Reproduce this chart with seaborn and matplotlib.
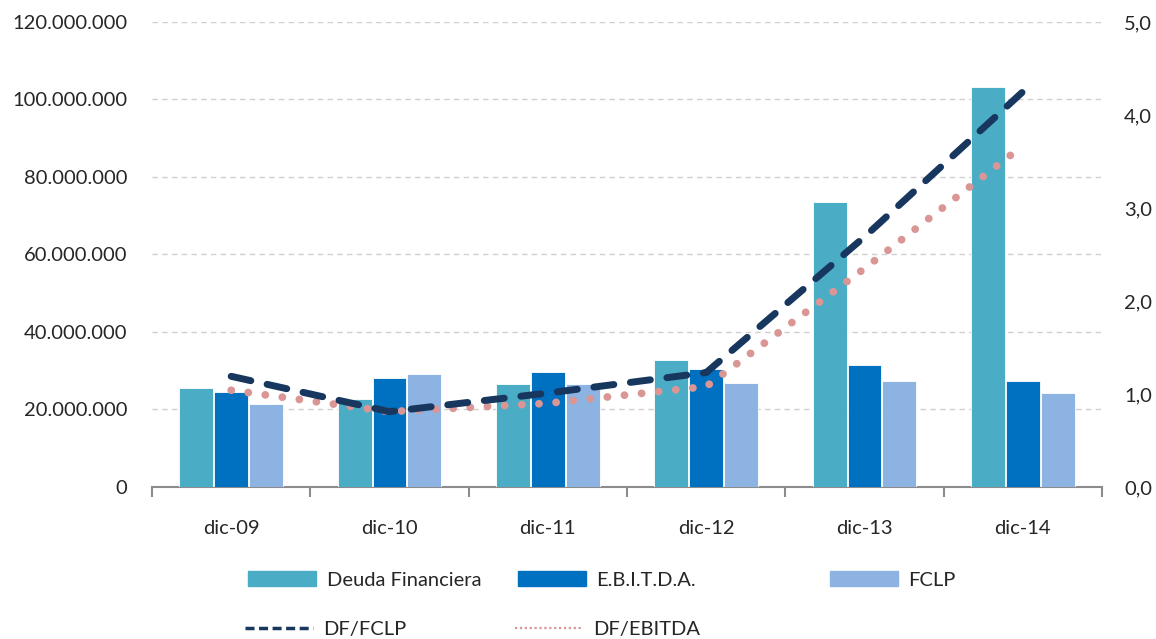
import matplotlib
matplotlib.use("Agg")
import matplotlib.pyplot as plt
import matplotlib.patches as mpatches
from matplotlib.lines import Line2D
from matplotlib.ticker import FuncFormatter, MultipleLocator
import numpy as np
import pandas as pd
import seaborn as sns

# ---- data ----
periods = ["dic-09", "dic-10", "dic-11", "dic-12", "dic-13", "dic-14"]
deuda_financiera = [25.5e6, 22.7e6, 26.5e6, 32.8e6, 73.6e6, 103.3e6]
ebitda = [24.6e6, 28.2e6, 29.6e6, 30.5e6, 31.5e6, 27.4e6]
fclp = [21.4e6, 29.2e6, 26.5e6, 26.9e6, 27.4e6, 24.2e6]
df_fclp = [1.19, 0.81, 1.01, 1.23, 2.69, 4.25]
df_ebitda = [1.04, 0.81, 0.90, 1.08, 2.35, 3.67]

series = ["Deuda Financiera", "E.B.I.T.D.A.", "FCLP"]
colors = {"Deuda Financiera": "#4BACC6", "E.B.I.T.D.A.": "#0070C0", "FCLP": "#8DB3E2"}
c_fclp = "#17375E"
c_ebitda = "#D99694"

df = pd.DataFrame({"periodo": periods * 3,
                   "serie": np.repeat(series, len(periods)),
                   "valor": deuda_financiera + ebitda + fclp})

sns.set_theme(style="white")
plt.rcParams["font.family"] = ["Lato", "DejaVu Sans"]
plt.rcParams["text.color"] = "#262626"

fig = plt.figure(figsize=(11.56, 6.39), dpi=100)
ax = fig.add_axes([0.1315, 0.2379, 0.8218, 0.7277])

sns.barplot(data=df, x="periodo", y="valor", hue="serie", hue_order=series,
            order=periods, palette=colors, saturation=1, width=0.66, gap=0.03,
            edgecolor="white", linewidth=0.6, ax=ax, legend=False, zorder=3)

ax.set_xlim(-0.5, 5.5)
ax.set_ylim(0, 120e6)
ax.yaxis.set_major_locator(MultipleLocator(20e6))
ax.yaxis.set_major_formatter(FuncFormatter(lambda v, p: f"{v:,.0f}".replace(",", ".")))
ax.grid(axis="y", color="#D0D0D0", linestyle=(0, (4, 3)), linewidth=1.0, zorder=0)
ax.set_axisbelow(True)
ax.set_xlabel("")
ax.set_ylabel("")

for s in ["top", "left", "right"]:
    ax.spines[s].set_visible(False)
ax.spines["bottom"].set_color("#8C8C8C")
ax.spines["bottom"].set_linewidth(1.5)

ax.set_xticks(np.arange(-0.5, 6, 1), minor=True)
ax.tick_params(axis="x", which="minor", length=7, width=1.5, color="#8C8C8C", bottom=True)
ax.tick_params(axis="x", which="major", length=0, pad=24, labelsize=14.5)
ax.tick_params(axis="y", length=0, pad=18, labelsize=14.5)

# ratios on right axis
ax2 = ax.twinx()
xs = np.arange(len(periods))
sns.lineplot(x=xs, y=df_fclp, ax=ax2, color=c_fclp, zorder=5,
             linewidth=5.0, linestyle=(0, (2.9, 2.4)), dash_capstyle="round")
sns.lineplot(x=xs, y=df_ebitda, ax=ax2, color=c_ebitda, zorder=4,
             linewidth=5.6, linestyle=(0, (0.01, 2.2)), dash_capstyle="round")

ax2.set_ylim(0, 5)
ax2.yaxis.set_major_locator(MultipleLocator(1))
ax2.yaxis.set_major_formatter(FuncFormatter(lambda v, p: f"{v:.1f}".replace(".", ",")))
ax2.tick_params(axis="y", length=0, pad=16, labelsize=14.5)
ax2.grid(False)
for s in ["top", "left", "right", "bottom"]:
    ax2.spines[s].set_visible(False)
ax2.set_xlim(-0.5, 5.5)

# legend: one entry each, placed like the original
entries = [
    (mpatches.Patch(color=colors["Deuda Financiera"]), "Deuda Financiera", 248, 580),
    (mpatches.Patch(color=colors["E.B.I.T.D.A."]), "E.B.I.T.D.A.", 518, 580),
    (mpatches.Patch(color=colors["FCLP"]), "FCLP", 830, 580),
    (Line2D([0], [0], color=c_fclp, linewidth=2.5, dashes=(2.6, 1.3)), "DF/FCLP", 245, 629),
    (Line2D([0], [0], color=c_ebitda, linewidth=1.6, linestyle=(0, (1, 1.2))), "DF/EBITDA", 515, 629),
]
W, H = 1156, 639
for h, lab, px, py in entries:
    lg = fig.legend(handles=[h], labels=[lab], loc="center left",
                    bbox_to_anchor=(px / W, 1 - py / H), frameon=False,
                    fontsize=14.5, handlelength=3.4, handleheight=0.75,
                    handletextpad=0.5, borderpad=0, borderaxespad=0)

fig.savefig("out.png", dpi=100, facecolor="white")
